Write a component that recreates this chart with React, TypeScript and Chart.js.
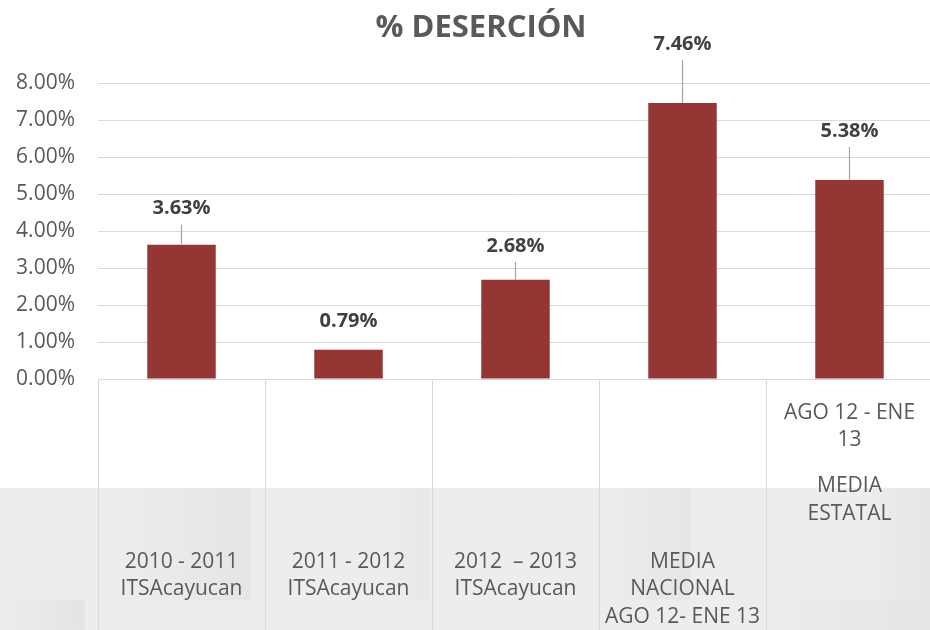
import React, { useEffect, useRef } from "react";
import { Chart, registerables } from "chart.js";

Chart.register(...registerables);

// ---- data ----
const chartTitle = "% DESERCIÓN";
const categoryLines: string[][] = [
  ["2010 - 2011", "ITSAcayucan"],
  ["2011 - 2012", "ITSAcayucan"],
  ["2012  – 2013", "ITSAcayucan"],
  ["MEDIA", "NACIONAL", "AGO 12- ENE 13"],
  ["AGO 12 - ENE", "13", "", "MEDIA", "ESTATAL"],
];
const desercion = [3.63, 0.79, 2.68, 7.46, 5.38];
const yMin = 0;
const yMax = 8;
const yStep = 1;

// ---- style (not data) ----
const labelLift = [36, 28, 34, 59, 49]; // px from bar top to value label centre
const labelTopOffset = [183, 183, 183, 183, 34]; // px below the axis for first label line
const FONT = "'Open Sans', 'Noto Sans', sans-serif";
const TEXT = "#595959";
const GRID = "#d9d9d9";
const BAR = "#943634";

const W = 962;
const H = 630;

export default function App() {
  const ref = useRef<HTMLCanvasElement | null>(null);

  useEffect(() => {
    const canvas = ref.current;
    if (!canvas) return;

    const backdrop = {
      id: "backdrop",
      beforeDraw(chart: any) {
        const { ctx, width, height } = chart;
        ctx.save();
        ctx.fillStyle = "#ffffff";
        ctx.fillRect(0, 0, width, height);
        const bandTop = chart.chartArea.bottom + 109;
        ctx.fillStyle = "#ecedee";
        ctx.fillRect(0, bandTop, width, height - bandTop);
        const patches = [
          [120, 0, 130, 112, 0.4],
          [0, 112, 85, 30, 0.45],
          [600, 0, 90, 112, 0.35],
          [865, 0, 70, 112, 0.4],
          [760, 112, 170, 30, 0.4],
          [380, 0, 50, 112, 0.25],
        ];
        for (const [x, y, w, h, a] of patches) {
          const g = ctx.createLinearGradient(x, 0, x + w, 0);
          g.addColorStop(0, `rgba(214,217,218,0)`);
          g.addColorStop(1, `rgba(214,217,218,${a})`);
          ctx.fillStyle = g;
          ctx.fillRect(x, bandTop + y, w, h);
        }
        ctx.restore();
      },
      beforeDatasetsDraw(chart: any) {
        const { ctx, chartArea, height } = chart;
        const xs = chart.scales.x;
        const n = categoryLines.length;
        const half = (xs.getPixelForValue(1) - xs.getPixelForValue(0)) / 2;
        ctx.save();
        ctx.strokeStyle = GRID;
        ctx.lineWidth = 1;
        for (let i = 0; i <= n; i++) {
          const x = Math.round(xs.getPixelForValue(i) - half) + 0.5;
          ctx.beginPath();
          ctx.moveTo(x, chartArea.bottom);
          ctx.lineTo(x, height);
          ctx.stroke();
        }
        ctx.restore();
      },
      afterDatasetsDraw(chart: any) {
        const { ctx } = chart;
        const meta = chart.getDatasetMeta(0);
        ctx.save();
        meta.data.forEach((bar: any, i: number) => {
          const lift = labelLift[i];
          const ly = bar.y - lift;
          if (lift > 30) {
            ctx.strokeStyle = "#a6a6a6";
            ctx.lineWidth = 1.2;
            ctx.beginPath();
            ctx.moveTo(bar.x, ly + 16);
            ctx.lineTo(bar.x, bar.y);
            ctx.stroke();
          }
          ctx.fillStyle = "#404040";
          ctx.font = `bold 20px ${FONT}`;
          ctx.textAlign = "center";
          ctx.textBaseline = "middle";
          ctx.fillText(desercion[i].toFixed(2) + "%", bar.x, ly);
        });
        ctx.restore();
      },
      afterDraw(chart: any) {
        const { ctx, chartArea, width } = chart;
        const xs = chart.scales.x;
        ctx.save();
        // title, centred on the canvas
        ctx.fillStyle = TEXT;
        ctx.font = `bold 31px ${FONT}`;
        ctx.textAlign = "center";
        ctx.textBaseline = "middle";
        ctx.fillText(chartTitle, width / 2, 28);
        // category labels
        ctx.font = `21px ${FONT}`;
        categoryLines.forEach((lines, i) => {
          const x = xs.getPixelForValue(i);
          let y = chartArea.bottom + labelTopOffset[i];
          for (const line of lines) {
            if (line === "") {
              y += 18.5;
              continue;
            }
            ctx.fillText(line, x, y);
            y += 27.5;
          }
        });
        ctx.restore();
      },
    };

    const chart = new Chart(canvas, {
      type: "bar",
      data: {
        labels: categoryLines.map((l) => l.filter((s) => s).join(" ")),
        datasets: [
          {
            data: desercion,
            backgroundColor: BAR,
            borderWidth: 0,
            barPercentage: 0.41,
            categoryPercentage: 1,
          },
        ],
      },
      options: {
        responsive: false,
        animation: false,
        layout: { padding: { left: 0, right: W - 933, top: 83, bottom: 0 } },
        plugins: {
          legend: { display: false },
          tooltip: { enabled: false },
          title: { display: false },
        },
        scales: {
          x: {
            grid: { display: false },
            border: { display: false },
            ticks: { display: false },
            afterFit: (s: any) => {
              s.height = 251;
            },
          },
          y: {
            min: yMin,
            max: yMax,
            grid: { color: GRID, lineWidth: 1, drawTicks: false },
            border: { display: false },
            ticks: {
              stepSize: yStep,
              padding: 23,
              color: TEXT,
              font: { family: FONT, size: 21 },
              callback: (v: any) => Number(v).toFixed(2) + "%",
            },
            afterFit: (s: any) => {
              s.width = 98;
            },
          },
        },
      },
      plugins: [backdrop],
    });

    return () => chart.destroy();
  }, []);

  return (
    <div
      style={{
        position: "fixed",
        left: 0,
        top: 0,
        width: 930,
        height: 630,
        overflow: "hidden",
        background: "#fff",
      }}
    >
      <canvas ref={ref} width={W} height={H} style={{ display: "block" }} />
    </div>
  );
}
